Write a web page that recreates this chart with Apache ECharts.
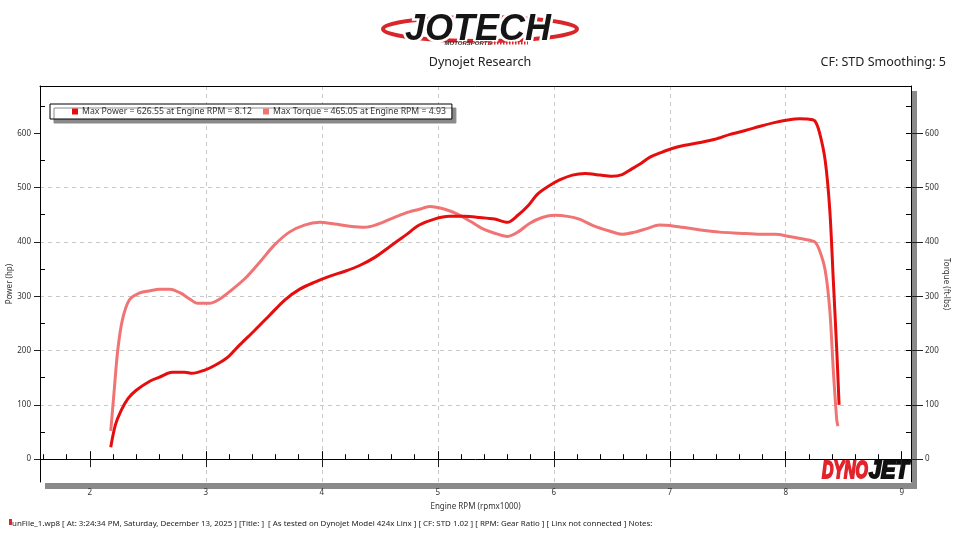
<!DOCTYPE html>
<html>
<head>
<meta charset="utf-8">
<script src="https://cdn.jsdelivr.net/npm/echarts@6/dist/echarts.min.js"></script>
<style>html,body{margin:0;padding:0;background:#fff}#c{width:960px;height:540px}</style>
</head>
<body>
<div id="c"></div>
<script>
// ---- data ----
const rpmPower = [2.18,2.22,2.27,2.33,2.40,2.52,2.60,2.71,2.82,2.88,2.99,3.08,3.19,3.29,3.42,3.55,3.68,3.81,3.94,4.07,4.20,4.33,4.46,4.59,4.72,4.84,4.97,5.10,5.23,5.36,5.49,5.60,5.69,5.78,5.86,5.95,6.05,6.16,6.27,6.40,6.50,6.59,6.67,6.74,6.83,6.93,7.02,7.13,7.26,7.39,7.52,7.65,7.78,7.91,8.03,8.12,8.20,8.25,8.29,8.34,8.38,8.41,8.44,8.46];
const power    = [22,63,90,112,127,144,151,160,160,158,164,173,188,210,237,265,293,313,326,337,346,357,372,392,412,431,442,447,447,445,442,436,449,467,488,502,514,523,526,523,521,524,534,543,556,565,572,578,583,589,598,605,613,620,625,626.5,626,623,602,550,458,330,200,100];

const rpmTorque = [2.18,2.21,2.24,2.28,2.34,2.43,2.52,2.60,2.69,2.78,2.86,2.93,3.03,3.12,3.22,3.34,3.47,3.59,3.72,3.85,3.98,4.11,4.24,4.37,4.46,4.59,4.72,4.84,4.93,5.06,5.17,5.28,5.38,5.49,5.60,5.69,5.79,5.90,6.01,6.12,6.22,6.35,6.48,6.59,6.70,6.81,6.91,7.04,7.17,7.30,7.43,7.60,7.78,7.91,8.03,8.16,8.25,8.29,8.34,8.38,8.41,8.44,8.45];
const torque    = [52,127,200,256,293,306,310,313,313,306,295,287,287,295,311,333,364,394,418,431,436,433,429,427,431,442,453,460,465,460,451,438,425,416,410,418,434,445,449,447,442,429,420,414,418,425,431,429,425,421,418,416,414,414,410,405,400,385,348,274,164,72,61];

const powerName  = 'Max Power = 626.55 at Engine RPM = 8.12';
const torqueName = 'Max Torque = 465.05 at Engine RPM = 4.93';

const xTicks = [2,3,4,5,6,7,8,9];
const yTicks = [0,100,200,300,400,500,600];
const xMinor = [1.6,1.8,2.2,2.4,2.6,2.8,3.2,3.4,3.6,3.8,4.2,4.4,4.6,4.8,5.2,5.4,5.6,5.8,6.2,6.4,6.6,6.8,7.2,7.4,7.6,7.8,8.2,8.4,8.6,8.8,9.0];
const yMinor = [-50,50,150,250,350,450,550,650];

const footer = 'unFile_1.wp8 [ At: 3:24:34 PM, Saturday, December 13, 2025 ] [Title: ]  [ As tested on Dynojet Model 424x Linx ] [ CF: STD 1.02 ] [ RPM: Gear Ratio ] [ Linx not connected ] Notes:';

// ---- chart ----
const X_MIN = 1.57, X_MAX = 9.08, Y_MIN = -42, Y_MAX = 687;
const FONT = '"Noto Sans", sans-serif';
const lblStyle = {color:'#333', fontSize:8, fontFamily:FONT};

function xAx(extra){ return Object.assign({type:'value', min:X_MIN, max:X_MAX, minInterval:1, maxInterval:1,
  axisLine:{show:false}, axisTick:{show:false}, axisLabel:{show:false}, splitLine:{show:false}}, extra); }
function yAx(extra){ return Object.assign({type:'value', min:Y_MIN, max:Y_MAX, minInterval:100, maxInterval:100,
  axisLine:{show:false}, axisTick:{show:false}, axisLabel:{show:false}, splitLine:{show:false}}, extra); }

const chart = echarts.init(document.getElementById('c'), null, {renderer:'canvas'});
chart.setOption({
  animation:false,
  backgroundColor:'#fff',
  grid:{left:40, right:49, top:86, bottom:58, containLabel:false, outerBoundsMode:'none'},
  legend:{
    left:50, top:104, orient:'horizontal',
    data:[powerName, torqueName],
    icon:'rect', itemWidth:6, itemHeight:6, itemGap:11,
    padding:[3,6,3,22],
    backgroundColor:'#fff', borderColor:'#000', borderWidth:1,
    shadowColor:'#8a8a8a', shadowBlur:0, shadowOffsetX:4, shadowOffsetY:4,
    textStyle:{color:'#333', fontSize:8.7, fontFamily:FONT, padding:[0,0,0,-1]},
    selectedMode:false
  },
  xAxis:[
    xAx({position:'bottom',
      name:'Engine RPM (rpmx1000)', nameLocation:'middle', nameGap:21, nameMoveOverlap:false,
      nameTextStyle:{color:'#333', fontSize:8, fontFamily:FONT},
      axisLine:{show:true, lineStyle:{color:'#000', width:1}},
      axisTick:{show:true, inside:false, length:8, customValues:xTicks, lineStyle:{color:'#222'}},
      axisLabel:{show:true, margin:7, customValues:xTicks, ...lblStyle},
      splitLine:{show:true, showMinLine:false, showMaxLine:false, lineStyle:{color:'#c8c8c8', type:[4,4], width:1}}
    }),
    xAx({position:'bottom', axisTick:{show:true, inside:true, length:8, customValues:xTicks, lineStyle:{color:'#000'}}}),
    xAx({position:'bottom', axisTick:{show:true, inside:true, length:5, customValues:xMinor, lineStyle:{color:'#000'}}}),
    xAx({position:'top', axisLine:{show:true, onZero:false, lineStyle:{color:'#000', width:1}}})
  ],
  yAxis:[
    yAx({position:'left',
      name:'Power (hp)', nameLocation:'middle', nameGap:26, nameRotate:90, nameMoveOverlap:false,
      nameTextStyle:{color:'#333', fontSize:8, fontFamily:FONT},
      axisLine:{show:true, onZero:false, lineStyle:{color:'#000', width:1}},
      axisTick:{show:true, inside:false, length:6, customValues:yTicks, lineStyle:{color:'#222'}},
      axisLabel:{show:true, margin:9, customValues:yTicks, ...lblStyle},
      splitLine:{show:true, showMinLine:false, showMaxLine:false, lineStyle:{color:'#c8c8c8', type:[4,4], width:1}}
    }),
    yAx({position:'right',
      name:'Torque (ft-lbs)', nameLocation:'middle', nameGap:31, nameRotate:-90, nameMoveOverlap:false,
      nameTextStyle:{color:'#333', fontSize:8, fontFamily:FONT},
      axisLine:{show:true, onZero:false, lineStyle:{color:'#000', width:1}},
      axisTick:{show:true, inside:false, length:12, customValues:yTicks, lineStyle:{color:'#222'}},
      axisLabel:{show:true, margin:14, customValues:yTicks, ...lblStyle}
    }),
    yAx({position:'left', axisTick:{show:true, inside:true, length:5, customValues:yMinor, lineStyle:{color:'#000'}}}),
    yAx({position:'right', axisTick:{show:true, inside:true, length:5, customValues:yMinor.concat(yTicks), lineStyle:{color:'#000'}}})
  ],
  series:[
    {name:torqueName, type:'line', xAxisIndex:0, yAxisIndex:1, showSymbol:false, smooth:0.3,
     data:rpmTorque.map((r,i)=>[r, torque[i]]),
     itemStyle:{color:'#f17474'}, lineStyle:{color:'#f17474', width:3}},
    {name:powerName, type:'line', xAxisIndex:0, yAxisIndex:0, showSymbol:false, smooth:0.3,
     data:rpmPower.map((r,i)=>[r, power[i]]),
     itemStyle:{color:'#e50d0d'}, lineStyle:{color:'#e50d0d', width:3}}
  ],
  graphic:[
    // frame shadow
    {type:'rect', z:-1, shape:{x:912, y:91, width:5, height:398}, style:{fill:'#8a8a8a'}},
    {type:'rect', z:-1, shape:{x:45, y:483, width:872, height:6}, style:{fill:'#8a8a8a'}},
    // JOTECH logo
    {type:'ellipse', shape:{cx:480, cy:29, rx:97, ry:12}, style:{fill:'none', stroke:'#d8262b', lineWidth:4}},
    {type:'text', x:478, y:30, style:{text:'JOTECH', font:'italic bold 36px "Liberation Sans", sans-serif',
      fill:'#151515', stroke:'#fff', lineWidth:5, strokeFirst:true, align:'center', verticalAlign:'middle'}},
    {type:'text', x:468, y:43, style:{text:'MOTORSPORTS', font:'italic bold 6px "Liberation Sans", sans-serif',
      fill:'#333', align:'center', verticalAlign:'middle'}},
    {type:'line', shape:{x1:488, y1:43, x2:528, y2:43}, style:{stroke:'#d8262b', lineWidth:3, lineDash:[1.5,1.5]}},
    // titles
    {type:'text', x:480, y:62, style:{text:'Dynojet Research', font:'12.5px ' + FONT, fill:'#222', align:'center', verticalAlign:'middle'}},
    {type:'text', x:946, y:62, style:{text:'CF: STD Smoothing: 5', font:'12.5px ' + FONT, fill:'#222', align:'right', verticalAlign:'middle'}},
    // DYNOJET logo
    {type:'text', x:822, y:471, scaleX:0.66,
      style:{text:'DYNO', font:'italic bold 24px "Liberation Sans", sans-serif', fill:'#e3232b', stroke:'#e3232b', lineWidth:2, align:'left', verticalAlign:'middle'}},
    {type:'text', x:869, y:471, scaleX:0.9,
      style:{text:'JET', font:'italic bold 24px "Liberation Sans", sans-serif', fill:'#111', stroke:'#111', lineWidth:2, align:'left', verticalAlign:'middle'}},
    // footer
    {type:'rect', shape:{x:9, y:519, width:3, height:6}, style:{fill:'#e3232b'}},
    {type:'text', x:12, y:524,
      style:{text:footer, font:'7.9px ' + FONT, fill:'#222', align:'left', verticalAlign:'middle'}}
  ]
});
</script>
</body>
</html>
